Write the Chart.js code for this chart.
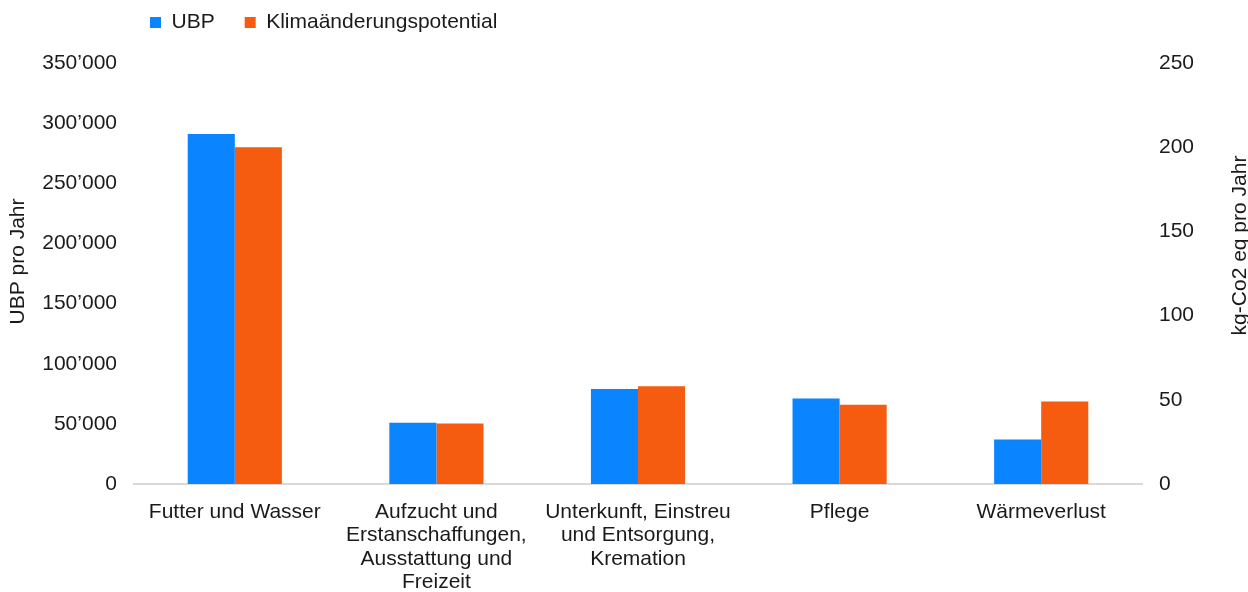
<!DOCTYPE html>
<html>
<head>
<meta charset="utf-8">
<script src="https://cdn.jsdelivr.net/npm/chart.js@4"></script>
<style>
  html, body { margin: 0; padding: 0; background: #fff; }
  #wrap { position: relative; width: 1248px; height: 592px; }
</style>
</head>
<body>
<div id="wrap"><canvas id="impactChart"></canvas></div>
<script>
// Kategorien (mehrzeilige Beschriftung)
const categories = [
    ['Futter und Wasser'],
    ['Aufzucht und', 'Erstanschaffungen,', 'Ausstattung und', 'Freizeit'],
    ['Unterkunft, Einstreu', 'und Entsorgung,', 'Kremation'],
    ['Pflege'],
    ['Wärmeverlust']
];

// Werte
const ubpValues = [291000, 51000, 79000, 71000, 37000];
const klimaValues = [200, 36, 58, 47, 49];

// Achsen-Beschriftungen
const leftTickLabels = ['0', '50\u2019000', '100\u2019000', '150\u2019000', '200\u2019000', '250\u2019000', '300\u2019000', '350\u2019000'];
const rightTickLabels = ['0', '50', '100', '150', '200', '250'];
const leftTitle = 'UBP pro Jahr';
const rightTitle = 'kg-Co2 eq pro Jahr';

const FONT = '"Liberation Sans", Arial, sans-serif';
const TEXT = '#1a1a1a';
const BLUE = '#0a84ff';
const ORANGE = '#f55c0f';

// Legende nach links verschieben (wie im Original)
const legendShift = {
    id: 'legendShift',
    afterLayout(chart) {
        const lg = chart.legend;
        lg.left = 120;
        lg.top -= 20;
    }
};

// Achsentitel, beide von unten nach oben gelesen
const axisTitles = {
    id: 'axisTitles',
    afterDraw(chart) {
        const ctx = chart.ctx;
        const area = chart.chartArea;
        ctx.save();
        ctx.font = '21px ' + FONT;
        ctx.fillStyle = TEXT;
        ctx.textAlign = 'center';
        ctx.textBaseline = 'middle';

        ctx.save();
        ctx.translate(chart.scales.y.left + 18, (area.top + area.bottom) / 2 - 12);
        ctx.rotate(-Math.PI / 2);
        ctx.fillText(leftTitle, 0, 0);
        ctx.restore();

        ctx.save();
        ctx.translate(chart.scales.y2.right - 8, (area.top + area.bottom) / 2 - 28);
        ctx.rotate(-Math.PI / 2);
        ctx.fillText(rightTitle, 0, 0);
        ctx.restore();

        ctx.restore();
    }
};

Chart.defaults.font.family = FONT;
Chart.defaults.font.size = 21;
Chart.defaults.color = TEXT;

const ctx = document.getElementById('impactChart').getContext('2d');
const impactChart = new Chart(ctx, {
    type: 'bar',
    data: {
        labels: categories,
        datasets: [
            {
                label: 'UBP',
                data: ubpValues,
                backgroundColor: BLUE,
                borderWidth: 0,
                yAxisID: 'y'
            },
            {
                label: 'Klimaänderungspotential',
                data: klimaValues,
                backgroundColor: ORANGE,
                borderWidth: 0,
                yAxisID: 'y2'
            }
        ]
    },
    options: {
        responsive: true,
        maintainAspectRatio: false,
        animation: false,
        layout: { padding: { top: 2, left: 0, right: 0, bottom: 0 } },
        datasets: {
            bar: { categoryPercentage: 0.467, barPercentage: 1.0 }
        },
        plugins: {
            legend: {
                position: 'top',
                align: 'start',
                labels: {
                    boxWidth: 11,
                    boxHeight: 11,
                    padding: 30,
                    color: TEXT,
                    font: { size: 21 }
                }
            },
            tooltip: { enabled: false }
        },
        scales: {
            x: {
                grid: { display: false },
                border: { display: true, color: '#d9d9d9', width: 2 },
                ticks: {
                    padding: 9,
                    maxRotation: 0,
                    autoSkip: false,
                    font: { size: 21, lineHeight: 1.1 }
                },
                afterFit(scale) { scale.height = 108; }
            },
            y: {
                position: 'left',
                min: 0,
                max: 350000,
                grid: { display: false },
                border: { display: false },
                ticks: {
                    stepSize: 50000,
                    padding: 9,
                    callback: (value, index) => leftTickLabels[index]
                },
                afterFit(scale) { scale.width = 134; }
            },
            y2: {
                position: 'right',
                min: 0,
                max: 250,
                grid: { display: false },
                border: { display: false },
                ticks: {
                    stepSize: 50,
                    padding: 9,
                    callback: (value, index) => rightTickLabels[index]
                },
                afterFit(scale) { scale.width = 106; }
            }
        }
    },
    plugins: [legendShift, axisTitles]
});
</script>
</body>
</html>
